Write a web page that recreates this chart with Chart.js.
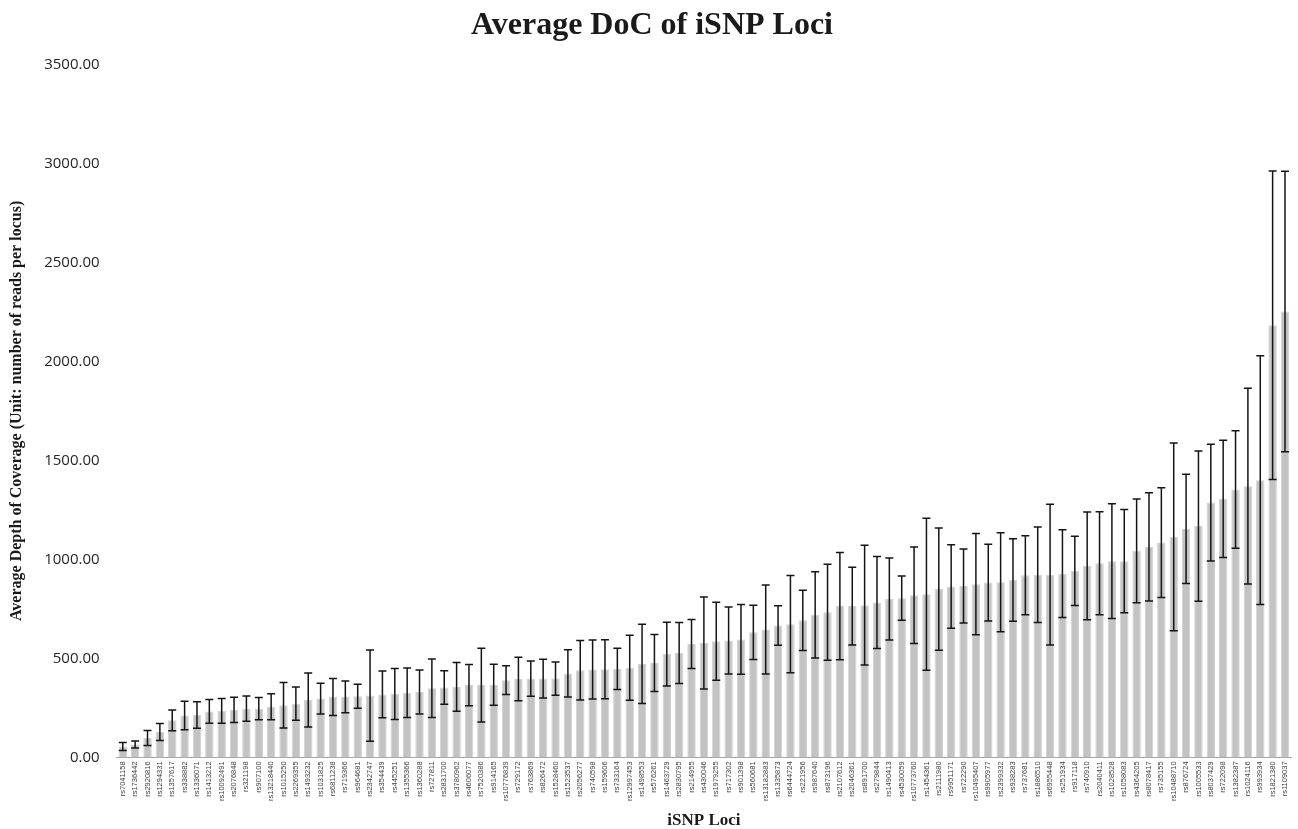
<!DOCTYPE html>
<html>
<head>
<meta charset="utf-8">
<script src="https://cdn.jsdelivr.net/npm/chart.js@4"></script>
<style>
  body { margin: 0; background: #fff; }
  #wrap { width: 1298px; height: 829px; }
</style>
</head>
<body>
<div id="wrap"><canvas id="docChart"></canvas></div>
<script>
const loci = ['rs7041158', 'rs1736442', 'rs2920816', 'rs1294331', 'rs1357617', 'rs338882', 'rs1336071', 'rs1413212', 'rs10092491', 'rs2076848',
    'rs321198', 'rs907100', 'rs13218440', 'rs1015250', 'rs2269355', 'rs1493232', 'rs1031825', 'rs6811238', 'rs719366', 'rs964681',
    'rs2342747', 'rs354439', 'rs445251', 'rs1355366', 'rs1360288', 'rs727811', 'rs2831700', 'rs3780962', 'rs4606077', 'rs7520386',
    'rs914165', 'rs10776839', 'rs729172', 'rs763869', 'rs826472', 'rs1528460', 'rs1523537', 'rs2056277', 'rs740598', 'rs159606',
    'rs733164', 'rs12997453', 'rs1498553', 'rs576261', 'rs1463729', 'rs2830795', 'rs214955', 'rs430046', 'rs1979255', 'rs717302',
    'rs901398', 'rs560681', 'rs13182883', 'rs1335873', 'rs6444724', 'rs221956', 'rs987640', 'rs873196', 'rs2107612', 'rs2046361',
    'rs891700', 'rs279844', 'rs1490413', 'rs4530059', 'rs10773760', 'rs1454361', 'rs2111980', 'rs9951171', 'rs722290', 'rs10495407',
    'rs9905977', 'rs2399332', 'rs938283', 'rs737681', 'rs1886510', 'rs6955448', 'rs251934', 'rs917118', 'rs740910', 'rs2040411',
    'rs1028528', 'rs1058083', 'rs4364205', 'rs8078417', 'rs735155', 'rs10488710', 'rs876724', 'rs1005533', 'rs8037429', 'rs722098',
    'rs1382387', 'rs1024116', 'rs993934', 'rs1821380', 'rs1109037'];

// mean depth of coverage per locus
const avgDepth = [55, 65, 98, 128, 187, 212, 214, 232, 235, 240,
    246, 246, 256, 263, 271, 290, 297, 305, 306, 309,
    312, 318, 320, 327, 330, 349, 353, 356, 365, 365,
    367, 390, 396, 398, 398, 398, 424, 440, 444, 445,
    447, 453, 472, 477, 522, 527, 573, 578, 587, 590,
    596, 632, 646, 666, 673, 692, 720, 733, 764, 764,
    769, 782, 800, 804, 819, 824, 850, 863, 866, 875,
    883, 885, 896, 920, 922, 923, 928, 942, 967, 981,
    991, 991, 1043, 1063, 1085, 1114, 1154, 1168, 1287, 1306,
    1353, 1370, 1400, 2183, 2252];

// standard deviation (error bars)
const sdDepth = [20, 18, 38, 43, 52, 72, 67, 60, 63, 64,
    64, 56, 66, 115, 84, 136, 78, 93, 80, 61,
    230, 118, 129, 125, 111, 148, 85, 123, 104, 186,
    104, 73, 110, 89, 98, 84, 119, 150, 149, 149,
    104, 164, 200, 144, 161, 154, 124, 232, 197, 169,
    176, 137, 225, 100, 245, 152, 218, 243, 271, 196,
    302, 232, 207, 112, 244, 384, 309, 211, 187, 256,
    194, 250, 208, 200, 241, 355, 222, 175, 272, 260,
    290, 261, 262, 273, 277, 474, 276, 380, 295, 296,
    297, 494, 628, 779, 708];

const yTicks = [0, 500, 1000, 1500, 2000, 2500, 3000, 3500];

const errorBars = {
    id: 'errorBars',
    afterDatasetsDraw(chart) {
        const ctx = chart.ctx;
        const yScale = chart.scales.y;
        const meta = chart.getDatasetMeta(0);
        ctx.save();
        ctx.strokeStyle = '#151515';
        ctx.lineWidth = 1.5;
        meta.data.forEach((bar, i) => {
            const top = yScale.getPixelForValue(avgDepth[i] + sdDepth[i]);
            const bot = yScale.getPixelForValue(avgDepth[i] - sdDepth[i]);
            const half = 4;
            ctx.beginPath();
            ctx.moveTo(bar.x, top);
            ctx.lineTo(bar.x, bot);
            ctx.moveTo(bar.x - half, top);
            ctx.lineTo(bar.x + half, top);
            ctx.moveTo(bar.x - half, bot);
            ctx.lineTo(bar.x + half, bot);
            ctx.stroke();
        });
        ctx.restore();
    }
};

function init() {
    const ctx = document.getElementById('docChart').getContext('2d');
    new Chart(ctx, {
        type: 'bar',
        data: {
            labels: loci,
            datasets: [{
                data: avgDepth,
                backgroundColor: '#c3c3c3',
                borderColor: '#d2d2d2',
                borderWidth: 1,
                barPercentage: 0.68,
                categoryPercentage: 1.0,
            }],
        },
        options: {
            responsive: true,
            maintainAspectRatio: false,
            animation: false,
            layout: { padding: { left: 7, right: 1, top: 0, bottom: 0 } },
            plugins: {
                legend: { display: false },
                tooltip: { enabled: false },
                title: {
                    display: true,
                    text: 'Average DoC of iSNP Loci',
                    color: '#1a1a1a',
                    font: { family: 'Liberation Serif', size: 32, weight: 'bold' },
                    padding: { top: 7, bottom: 19 },
                },
            },
            scales: {
                x: {
                    grid: { display: false, drawTicks: false },
                    border: { display: true, color: '#a6a6a6', width: 1 },
                    ticks: {
                        autoSkip: false,
                        maxRotation: 90,
                        minRotation: 90,
                        padding: 4,
                        color: '#404040',
                        font: { family: 'Liberation Sans', size: 7.5 },
                    },
                    title: {
                        display: true,
                        text: 'iSNP Loci',
                        color: '#1a1a1a',
                        font: { family: 'Liberation Serif', size: 17, weight: 'bold', lineHeight: 1 },
                        padding: { top: 7, bottom: 0 },
                    },
                },
                y: {
                    min: 0,
                    max: 3500,
                    afterBuildTicks: (axis) => { axis.ticks = yTicks.map(v => ({ value: v })); },
                    grid: { display: false, drawTicks: false },
                    border: { display: false },
                    ticks: {
                        padding: 17,
                        color: '#262626',
                        font: { family: 'Open Sans', size: 15 },
                        callback: (v) => Number(v).toFixed(2),
                    },
                    title: {
                        display: true,
                        text: 'Average Depth of Coverage (Unit: number of reads per locus)',
                        color: '#1a1a1a',
                        font: { family: 'Liberation Serif', size: 16, weight: 'bold' },
                        padding: { top: 0, bottom: 1 },
                    },
                },
            },
        },
        plugins: [errorBars],
    });
}

window.onload = init;
</script>
</body>
</html>
